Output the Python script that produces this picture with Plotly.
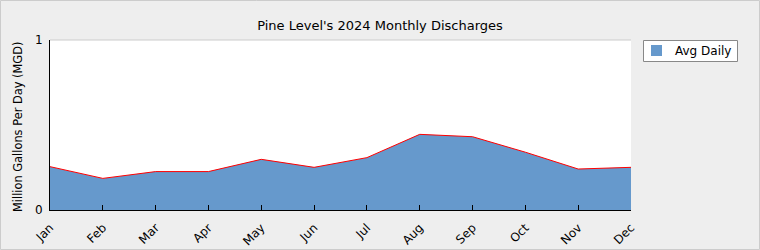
import plotly.graph_objects as go

months = ["Jan", "Feb", "Mar", "Apr", "May", "Jun", "Jul", "Aug", "Sep", "Oct", "Nov", "Dec"]
avg_daily = [0.255, 0.186, 0.226, 0.226, 0.298, 0.251, 0.308, 0.445, 0.431, 0.340, 0.241, 0.251]
y_ticks = [0, 1]
series_name = "Avg Daily"
fill_color = "#6699cc"

L, R, T, B = 50, 129, 40, 40
W, H = 760, 250
pw, ph = W - L - R, H - T - B


def px(x):
    return (x - L) / pw


def py(y):
    return (H - B - y) / ph


fig = go.Figure()
fig.add_trace(go.Scatter(
    x=months, y=avg_daily, mode="lines", name=series_name, showlegend=False,
    fill="tozeroy", fillcolor=fill_color,
    line=dict(color="#ff0000", width=1),
))

fig.update_layout(
    width=W, height=H,
    margin=dict(l=L, r=R, t=T, b=B),
    paper_bgcolor="#eeeeee", plot_bgcolor="#ffffff",
    font=dict(family="DejaVu Sans", size=11, color="#000000"),
    title=dict(text="Pine Level's 2024 Monthly Discharges", x=0.5, xanchor="center",
               y=1 - 25 / H, yanchor="middle", font=dict(size=13)),
    showlegend=False,
    xaxis=dict(range=[0, 11], showgrid=False, zeroline=False, showline=True, linecolor="#000000",
               linewidth=1, ticks="inside", ticklen=5, tickcolor="#000000", tickangle=-45,
               tickfont=dict(size=12), automargin=False, ticklabelstandoff=5),
    yaxis=dict(range=[0, 1], tickvals=y_ticks, ticktext=[str(v) for v in y_ticks], showgrid=False,
               zeroline=False, showline=True, linecolor="#000000", linewidth=1, ticks="inside",
               ticklen=5, tickcolor="#000000", tickfont=dict(size=12), automargin=False,
               ticklabelstandoff=4),
    annotations=[
        dict(text="Million Gallons Per Day (MGD)", xref="paper", yref="paper", x=px(18), y=py(127),
             xanchor="center", yanchor="middle", textangle=-90, showarrow=False,
             font=dict(size=11.4)),
        dict(text=series_name, xref="paper", yref="paper", x=px(673), y=py(50.5),
             xanchor="left", yanchor="middle", showarrow=False, font=dict(size=12)),
    ],
    shapes=[
        dict(type="line", xref="paper", yref="paper", x0=0, x1=1, y0=1, y1=1,
             line=dict(color="#cccccc", width=1)),
        dict(type="rect", xref="paper", yref="paper",
             x0=px(0.5), x1=px(W - 0.5), y0=py(H - 0.5), y1=py(0.5),
             line=dict(color="#cccccc", width=1), fillcolor="rgba(0,0,0,0)", layer="above"),
        dict(type="rect", xref="paper", yref="paper",
             x0=px(643.5), x1=px(737.5), y0=py(61.5), y1=py(40.5),
             line=dict(color="#888888", width=1), fillcolor="#ffffff"),
        dict(type="rect", xref="paper", yref="paper",
             x0=px(651), x1=px(662), y0=py(56), y1=py(45),
             line=dict(width=0), fillcolor=fill_color),
    ],
)

fig.write_html("out.html")
